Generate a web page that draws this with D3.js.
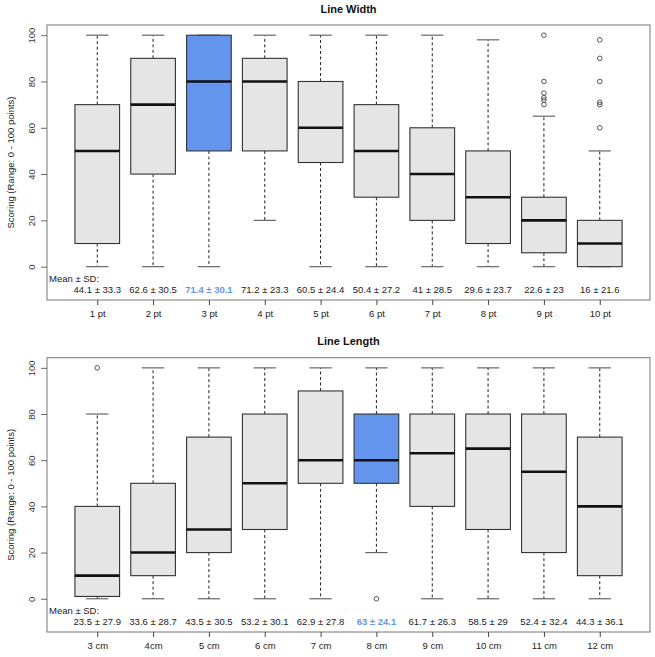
<!DOCTYPE html>
<html>
<head>
<meta charset="utf-8">
<script src="https://cdn.jsdelivr.net/npm/d3@7"></script>
<style>
  html, body { margin: 0; padding: 0; background: #fff; }
  svg { display: block; font-family: "Liberation Sans", Arial, sans-serif; }
</style>
</head>
<body>
<svg id="chart" width="655" height="657"></svg>
<script>
// ---------- DATA ----------
const widthCategories = ["1 pt","2 pt","3 pt","4 pt","5 pt","6 pt","7 pt","8 pt","9 pt","10 pt"];
const widthLower   = [0, 0, 0, 20, 0, 0, 0, 0, 0, 0];
const widthQ1      = [10, 40, 50, 50, 45, 30, 20, 10, 6, 0];
const widthMedian  = [50, 70, 80, 80, 60, 50, 40, 30, 20, 10];
const widthQ3      = [70, 90, 100, 90, 80, 70, 60, 50, 30, 20];
const widthUpper   = [100, 100, 100, 100, 100, 100, 100, 98, 65, 50];
const widthOutliers = [[], [], [], [], [], [], [], [], [100, 80, 75, 73, 72, 70], [98, 90, 80, 71, 70, 60]];
const widthMean    = [44.1, 62.6, 71.4, 71.2, 60.5, 50.4, 41, 29.6, 22.6, 16];
const widthSD      = [33.3, 30.5, 30.1, 23.3, 24.4, 27.2, 28.5, 23.7, 23, 21.6];
const widthHighlight = 2;

const lengthCategories = ["3 cm","4cm","5 cm","6 cm","7 cm","8 cm","9 cm","10 cm","11 cm","12 cm"];
const lengthLower  = [0, 0, 0, 0, 0, 20, 0, 0, 0, 0];
const lengthQ1     = [1, 10, 20, 30, 50, 50, 40, 30, 20, 10];
const lengthMedian = [10, 20, 30, 50, 60, 60, 63, 65, 55, 40];
const lengthQ3     = [40, 50, 70, 80, 90, 80, 80, 80, 80, 70];
const lengthUpper  = [80, 100, 100, 100, 100, 100, 100, 100, 100, 100];
const lengthOutliers = [[100], [], [], [], [], [0], [], [], [], []];
const lengthMean   = [23.5, 33.6, 43.5, 53.2, 62.9, 63, 61.7, 58.5, 52.4, 44.3];
const lengthSD     = [27.9, 28.7, 30.5, 30.1, 27.8, 24.1, 26.3, 29, 32.4, 36.1];
const lengthHighlight = 5;

const yTicks = [0, 20, 40, 60, 80, 100];

// ---------- DRAW ----------
const svg = d3.select("#chart");
const BLUE = "#6495ED";
const GREY = "#e5e5e5";

function panel(cfg) {
  const g = svg.append("g");
  const n = cfg.cats.length;
  const x = d3.scaleLinear().domain([0.1, n + 0.9]).range([47, 650]);
  const y = d3.scaleLinear().domain([-14.4, 104.4]).range([cfg.bottom, cfg.top]);
  const bw = (x(1.4) - x(1));   // half box width (0.8 total)
  const cw = (x(1.2) - x(1));   // half cap width

  // title
  g.append("text").attr("x", (47 + 650) / 2).attr("y", cfg.titleY)
    .attr("text-anchor", "middle").attr("font-weight", "bold")
    .attr("font-size", "11px").attr("fill", "#111").text(cfg.title);

  const data = cfg.cats.map((c, i) => ({
    i, c, lo: cfg.lower[i], q1: cfg.q1[i], med: cfg.med[i], q3: cfg.q3[i], hi: cfg.upper[i],
    out: cfg.out[i], mean: cfg.mean[i], sd: cfg.sd[i]
  }));

  const items = g.selectAll("g.box").data(data).join("g").attr("class", "box");
  // whiskers
  items.append("line").attr("x1", d => x(d.i + 1)).attr("x2", d => x(d.i + 1))
    .attr("y1", d => y(d.q3)).attr("y2", d => y(d.hi))
    .attr("stroke", "#222").attr("stroke-dasharray", "3,2.5").attr("stroke-width", 1);
  items.append("line").attr("x1", d => x(d.i + 1)).attr("x2", d => x(d.i + 1))
    .attr("y1", d => y(d.q1)).attr("y2", d => y(d.lo))
    .attr("stroke", "#222").attr("stroke-dasharray", "3,2.5").attr("stroke-width", 1);
  // caps
  items.append("line").attr("x1", d => x(d.i + 1) - cw).attr("x2", d => x(d.i + 1) + cw)
    .attr("y1", d => y(d.hi)).attr("y2", d => y(d.hi)).attr("stroke", "#666").attr("stroke-width", 1.2);
  items.append("line").attr("x1", d => x(d.i + 1) - cw).attr("x2", d => x(d.i + 1) + cw)
    .attr("y1", d => y(d.lo)).attr("y2", d => y(d.lo)).attr("stroke", "#666").attr("stroke-width", 1.2);
  // box
  items.append("rect").attr("x", d => x(d.i + 1) - bw).attr("width", 2 * bw)
    .attr("y", d => y(d.q3)).attr("height", d => y(d.q1) - y(d.q3))
    .attr("fill", d => d.i === cfg.hl ? BLUE : GREY)
    .attr("stroke", "#333").attr("stroke-width", 1.1);
  // median
  items.append("line").attr("x1", d => x(d.i + 1) - bw).attr("x2", d => x(d.i + 1) + bw)
    .attr("y1", d => y(d.med)).attr("y2", d => y(d.med))
    .attr("stroke", "#111").attr("stroke-width", 2.6);
  // outliers
  items.selectAll("circle").data(d => d.out.map(v => ({ i: d.i, v }))).join("circle")
    .attr("cx", d => x(d.i + 1)).attr("cy", d => y(d.v)).attr("r", 2.3)
    .attr("fill", "none").attr("stroke", "#444").attr("stroke-width", 0.9);

  // mean ± sd labels
  g.append("text").attr("x", 49).attr("y", y(-5)).attr("dy", "0.35em")
    .attr("font-size", "9.5px").attr("fill", "#222").text("Mean ± SD:");
  g.selectAll("text.mean").data(data).join("text").attr("class", "mean")
    .attr("x", d => x(d.i + 1)).attr("y", y(-10)).attr("dy", "0.35em")
    .attr("text-anchor", "middle").attr("font-size", "9.5px")
    .attr("font-weight", d => d.i === cfg.hl ? "bold" : "normal")
    .attr("fill", d => d.i === cfg.hl ? BLUE : "#222")
    .text(d => `${d.mean} ± ${d.sd}`);

  // frame
  g.append("rect").attr("x", 47).attr("y", cfg.top).attr("width", 603).attr("height", cfg.bottom - cfg.top)
    .attr("fill", "none").attr("stroke", "#777").attr("stroke-width", 1);

  // y axis
  const ya = g.append("g").attr("transform", "translate(47,0)")
    .call(d3.axisLeft(y).tickValues(yTicks).tickSize(6).tickSizeOuter(0));
  ya.select(".domain").remove();
  ya.selectAll(".tick line").attr("stroke", "#666");
  ya.selectAll(".tick text").attr("transform", "rotate(-90)").attr("x", 0).attr("y", -15)
    .attr("dy", "0.35em").attr("text-anchor", "middle")
    .attr("font-size", "9.5px").attr("font-family", "Liberation Sans, Arial, sans-serif").attr("fill", "#333");

  // x axis
  const xa = g.append("g").attr("transform", `translate(0,${cfg.bottom})`)
    .call(d3.axisBottom(x).tickValues(d3.range(1, n + 1)).tickFormat(i => cfg.cats[i - 1]).tickSize(5).tickSizeOuter(0));
  xa.select(".domain").remove();
  xa.selectAll(".tick line").attr("stroke", "#444");
  xa.selectAll(".tick text").attr("y", 14).attr("dy", "0.35em")
    .attr("font-size", "9.5px").attr("font-family", "Liberation Sans, Arial, sans-serif").attr("fill", "#222");

  // y label
  g.append("text").attr("transform", `translate(11,${(cfg.top + cfg.bottom) / 2}) rotate(-90)`)
    .attr("text-anchor", "middle").attr("dy", "0.35em")
    .attr("font-size", "9.5px").attr("fill", "#222").text("Scoring (Range: 0 - 100 points)");
}

panel({ title: "Line Width", titleY: 13, top: 25, bottom: 300,
  cats: widthCategories, lower: widthLower, q1: widthQ1, med: widthMedian, q3: widthQ3, upper: widthUpper,
  out: widthOutliers, mean: widthMean, sd: widthSD, hl: widthHighlight });
panel({ title: "Line Length", titleY: 345, top: 357.7, bottom: 632,
  cats: lengthCategories, lower: lengthLower, q1: lengthQ1, med: lengthMedian, q3: lengthQ3, upper: lengthUpper,
  out: lengthOutliers, mean: lengthMean, sd: lengthSD, hl: lengthHighlight });
</script>
</body>
</html>
